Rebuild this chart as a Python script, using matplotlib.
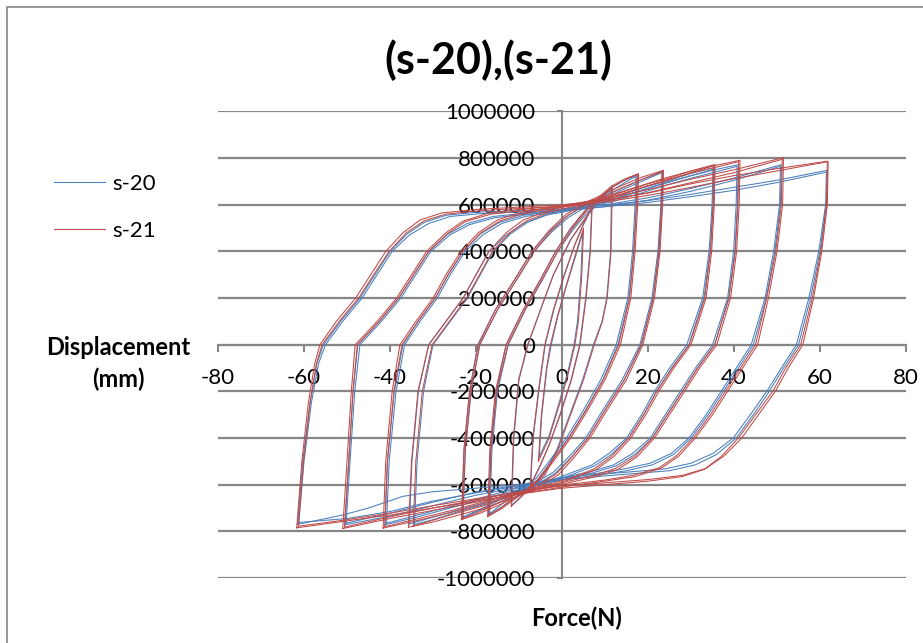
import matplotlib.pyplot as plt
import numpy as np
from matplotlib.patches import Rectangle
from matplotlib.ticker import FuncFormatter

plt.rcParams['font.family'] = ['Lato', 'DejaVu Sans']
plt.rcParams['axes.unicode_minus'] = False

BLUE = '#4A7EBB'
RED = '#BE4B48'
GRID = '#868686'

# (force, displacement in thousands)
# one list per cycle, named by the amplitude of the cycle

# ---- s-20 (blue) ----
s20_a05 = [(-5.3, -480), (-4.7, -300), (-3.5, -100), (-2.5, 0), (-1, 120), (1, 250), (3, 370),
           (4.8, 480), (4.4, 300), (3.6, 100), (2.8, 0), (1.3, -120), (-0.7, -250), (-3, -390),
           (-5.3, -480)]
s20_a07 = [(-7.3, -600), (-6.7, -400), (-5.4, -200), (-3.9, 0), (-1.9, 150), (0.6, 300), (3, 430),
           (5, 515), (6.9, 585), (6.5, 400), (5.5, 200), (4.1, 0), (2.1, -150), (-0.5, -300),
           (-3, -430), (-5.2, -520), (-7.3, -600)]
s20_a11 = [(-11.7, -688), (-11.2, -400), (-10, -150), (-7.9, 0), (-5, 150), (-2, 300), (2, 450),
           (6, 555), (9, 625), (11.5, 670), (11.3, 400), (10.4, 200), (9.3, 100), (7.3, 0),
           (4.8, -150), (1.8, -300), (-1.2, -450), (-4.2, -555), (-7.4, -608), (-9.5, -650),
           (-11.7, -688)]
s20_a17 = [(-17.1, -730), (-16.6, -450), (-15.3, -200), (-13, 0), (-9, 150), (-5, 280),
           (-1.5, 400), (2, 495), (6, 585), (9, 635), (11.5, 672), (14.5, 705), (17.5, 728),
           (17.3, 600), (16.7, 400), (15.6, 200), (13, 0), (9.5, -150), (5.5, -280), (1.5, -400),
           (-2.5, -500), (-5.5, -575), (-8, -615), (-11, -655), (-14, -695), (-17.1, -730)]
s20_a17b = [(-16.8, -724), (-16.3, -450), (-15, -200), (-12.5, 0), (-8.5, 150), (-4.5, 280),
            (-1, 400), (2.5, 492), (6.5, 580), (9.5, 630), (12, 665), (15, 700), (17.2, 722),
            (17, 600), (16.4, 400), (15.3, 200), (12.6, 0), (9, -150), (5, -280), (1, -400),
            (-3, -500), (-6, -572), (-8.5, -610), (-11.5, -650), (-14.5, -690), (-16.8, -724)]
s20_a23 = [(-23.3, -742), (-22.8, -450), (-21.5, -200), (-19.6, 0), (-15.5, 150), (-11, 280),
           (-7, 400), (-3, 485), (1, 550), (5, 595), (9, 630), (13, 665), (18, 705), (23.5, 745),
           (23.3, 600), (22.6, 400), (21.2, 200), (18.5, 0), (14.5, -150), (10, -280), (6, -400),
           (2, -485), (-1.5, -550), (-5, -590), (-9, -620), (-14, -670), (-19, -710),
           (-23.3, -742)]
s20_a23b = [(-23, -738), (-22.5, -450), (-21.1, -200), (-19.2, 0), (-15, 150), (-10.5, 280),
            (-6.5, 400), (-2.5, 482), (1.5, 546), (5.5, 590), (9.5, 625), (13.5, 660), (18.5, 700),
            (23.2, 738), (23, 600), (22.3, 400), (20.9, 200), (18.1, 0), (14, -150), (9.5, -280),
            (5.5, -400), (1.5, -482), (-2, -546), (-5.5, -585), (-9.5, -615), (-14.5, -665),
            (-19, -705), (-23, -738)]
s20_a35 = [(-34.3, -770), (-33.7, -500), (-32.2, -200), (-30, 0), (-26, 100), (-22, 200),
           (-19, 300), (-16, 400), (-12, 475), (-8, 525), (-3, 560), (0, 575), (5, 595),
           (10, 620), (15, 650), (20, 680), (25, 705), (30, 735), (35.4, 760),
           (35.2, 600), (34.5, 400), (33, 200), (29.5, 0), (25.5, -100), (22, -200), (19, -300),
           (15.5, -400), (11.5, -470), (7.5, -520), (2.5, -555), (-1, -580), (-6, -605),
           (-12, -645), (-18, -685), (-24, -715), (-30, -750), (-34.3, -770)]
s20_a35b = [(-35.5, -768), (-34.9, -500), (-33.4, -200), (-31, 0), (-27, 100), (-23, 200),
            (-20, 300), (-17, 400), (-13, 470), (-9, 520), (-4, 555), (0, 568), (5, 588),
            (10, 612), (15, 640), (20, 670), (25, 697), (30, 725), (35.1, 752),
            (34.9, 600), (34.2, 400), (32.7, 200), (29, 0), (25, -100), (21.5, -200), (18.5, -300),
            (15, -400), (11, -465), (7, -515), (2, -550), (-1.5, -575), (-6.5, -600),
            (-12.5, -640), (-18.5, -680), (-24.5, -710), (-30.5, -742), (-35.5, -768)]
s20_a41 = [(-41.2, -772), (-40.6, -500), (-39, -200), (-37, 0), (-33.5, 100), (-29.5, 200),
           (-26.5, 300), (-23, 400), (-19, 475), (-14.5, 525), (-9, 555), (-3, 572), (0, 580),
           (6, 598), (12, 625), (18, 660), (24, 695), (30, 725), (36, 752), (41, 772),
           (40.8, 600), (40.2, 400), (38.8, 200), (35.5, 0), (31.5, -100), (28, -200),
           (24.5, -300), (21, -400), (17, -470), (12.5, -520), (7, -550), (1, -575), (-4, -595),
           (-11, -625), (-19, -665), (-27, -705), (-34, -740), (-41.2, -772)]
s20_a41b = [(-40.8, -765), (-40.2, -500), (-38.6, -200), (-36.6, 0), (-33, 100), (-29, 200),
            (-26, 300), (-22.5, 400), (-18.5, 470), (-14, 520), (-8.5, 550), (-2.5, 566),
            (0, 574), (6, 590), (12, 615), (18, 648), (24, 683), (30, 714), (36, 742), (40.7, 765),
            (40.5, 600), (39.9, 400), (38.5, 200), (35, 0), (31, -100), (27.5, -200), (24, -300),
            (20.5, -400), (16.5, -465), (12, -515), (6.5, -545), (0.5, -568), (-4, -588),
            (-11, -617), (-19, -657), (-27, -698), (-34, -732), (-40.8, -765)]
s20_a51 = [(-50.5, -772), (-49.6, -500), (-48.6, -200), (-47.5, 0), (-42.5, 100), (-38, 200),
           (-34.5, 300), (-31, 400), (-26.5, 475), (-22, 520), (-16, 550), (-8, 565), (0, 578),
           (10, 600), (20, 630), (30, 670), (40, 715), (51, 772),
           (50.8, 600), (49.5, 400), (47.5, 200), (44.5, 0), (41, -100), (37.5, -200), (34, -300),
           (30, -400), (26, -470), (21, -515), (15, -540), (8, -560), (0, -578), (-10, -610),
           (-20, -645), (-30, -690), (-40, -735), (-50.5, -772)]
s20_a51b = [(-50.2, -765), (-49.3, -500), (-48.2, -200), (-47, 0), (-42, 100), (-37.5, 200),
            (-34, 300), (-30.5, 400), (-26, 472), (-21.5, 515), (-15.5, 545), (-8, 560), (0, 572),
            (10, 592), (20, 620), (30, 658), (40, 705), (50.8, 765),
            (50.6, 600), (49.2, 400), (47.2, 200), (44, 0), (40.5, -100), (37, -200),
            (33.5, -300), (29.5, -400), (25.5, -465), (20.5, -508), (14.5, -532), (8, -552),
            (0, -570), (-10, -600), (-20, -632), (-30, -675), (-40, -722), (-50.2, -765)]
s20_a62 = [(-61.5, -770), (-60.3, -500), (-58.6, -250), (-57, -80), (-55.5, 0), (-51.5, 100),
           (-47, 200), (-43.5, 300), (-40, 400), (-36, 475), (-32, 525), (-27, 555), (-20, 568),
           (-10, 575), (0, 582), (10, 598), (20, 618), (30, 645), (40, 675), (50, 705),
           (61.7, 748),
           (61.5, 600), (60, 400), (57.8, 200), (55, 0), (51.5, -100), (48.2, -200), (44.5, -300),
           (40.5, -400), (36, -470), (31, -515), (25, -540), (15, -555), (5, -570), (0, -580),
           (-10, -600), (-20, -615), (-30, -630), (-37, -650), (-45, -700), (-51, -730),
           (-61.5, -770)]
s20_a62b = [(-61.2, -762), (-60, -500), (-58.3, -250), (-56.6, -80), (-55, 0), (-51, 100),
            (-46.5, 200), (-43, 300), (-39.5, 400), (-35.5, 470), (-31, 520), (-26, 550),
            (-19, 562), (-9, 570), (0, 577), (10, 592), (20, 610), (30, 635), (40, 662),
            (50, 695), (61.5, 740),
            (61.3, 600), (59.7, 400), (57.4, 200), (54.5, 0), (51, -100), (47.6, -200),
            (43.8, -300), (39.8, -400), (35.2, -465), (30, -508), (24, -532), (14, -548),
            (5, -560), (0, -572), (-10, -605), (-20, -635), (-30, -670), (-40, -715),
            (-50, -745), (-61.2, -762)]

# ---- s-21 (red) ----
s21_a05 = [(-5.5, -500), (-4.8, -300), (-3.6, -100), (-2.7, 0), (-1.1, 120), (0.9, 250),
           (3, 380), (5, 500), (4.6, 300), (3.8, 100), (3, 0), (1.5, -120), (-0.5, -250),
           (-3, -400), (-5.5, -500)]
s21_a07 = [(-7.4, -608), (-6.8, -400), (-5.5, -200), (-4, 0), (-2, 150), (0.5, 300), (3, 430),
           (5, 520), (7, 592), (6.6, 400), (5.6, 200), (4.2, 0), (2.2, -150), (-0.4, -300),
           (-3, -430), (-5.2, -525), (-7.4, -608)]
s21_a11 = [(-11.8, -692), (-11.3, -400), (-10.1, -150), (-8, 0), (-5, 150), (-2, 300), (2, 450),
           (6, 560), (9, 630), (11.7, 678), (11.4, 400), (10.5, 200), (9.4, 100), (7.5, 0),
           (5, -150), (2, -300), (-1, -450), (-4, -560), (-7.4, -612), (-9.6, -655),
           (-11.8, -692)]
s21_a17 = [(-17.3, -737), (-16.8, -450), (-15.5, -200), (-13, 0), (-9, 150), (-5, 280),
           (-1.5, 400), (2, 500), (6, 590), (9, 640), (11.5, 680), (14.5, 710), (17.8, 734),
           (17.6, 600), (17, 400), (16, 200), (13.6, 0), (10, -150), (6, -280), (2, -400),
           (-2, -500), (-5.5, -580), (-8, -622), (-11, -662), (-14, -702), (-17.3, -737)]
s21_a17b = [(-17, -732), (-16.5, -450), (-15.2, -200), (-12.6, 0), (-8.6, 150), (-4.6, 280),
            (-1, 400), (2.5, 500), (6.5, 592), (9.5, 642), (12, 680), (15, 710), (17.5, 730),
            (17.3, 600), (16.7, 400), (15.7, 200), (13.2, 0), (9.6, -150), (5.6, -280),
            (1.6, -400), (-2.4, -500), (-5.8, -582), (-8.3, -622), (-11.3, -660), (-14.3, -700),
            (-17, -732)]
s21_a23 = [(-23.4, -750), (-22.8, -450), (-21.5, -200), (-19.5, 0), (-15.5, 150), (-11, 280),
           (-7, 400), (-3, 490), (1, 560), (5, 605), (9, 640), (13, 675), (18, 715), (23.6, 748),
           (23.4, 600), (22.8, 400), (21.5, 200), (18.8, 0), (15, -150), (10.5, -280), (6.5, -400),
           (2.5, -490), (-1, -560), (-5, -605), (-9, -635), (-14, -682), (-19, -722),
           (-23.4, -750)]
s21_a23b = [(-23.1, -745), (-22.5, -450), (-21.2, -200), (-19.1, 0), (-15, 150), (-10.5, 280),
            (-6.5, 400), (-2.5, 488), (1.5, 556), (5.5, 600), (9.5, 634), (13.5, 668), (18.5, 708),
            (23.3, 742), (23.1, 600), (22.5, 400), (21.2, 200), (18.4, 0), (14.5, -150),
            (10, -280), (6, -400), (2, -488), (-1.5, -556), (-5.5, -600), (-9.5, -630),
            (-14.5, -676), (-19, -715), (-23.1, -745)]
s21_a35 = [(-35.7, -782), (-35, -500), (-33.5, -200), (-31, 0), (-27, 100), (-23, 200),
           (-20, 300), (-17, 400), (-13, 480), (-9, 535), (-4, 570), (0, 590), (5, 610),
           (10, 630), (15, 660), (20, 690), (25, 715), (30, 745), (35.6, 773),
           (35.4, 600), (34.8, 400), (33.5, 200), (30, 0), (26, -100), (22.5, -200), (19.5, -300),
           (16, -400), (12, -480), (8, -535), (3, -570), (-1, -595), (-6, -620), (-12, -660),
           (-18, -700), (-24, -730), (-30, -760), (-35.7, -782)]
s21_a35b = [(-34.6, -778), (-34, -500), (-32.5, -200), (-30.2, 0), (-26.2, 100), (-22.2, 200),
            (-19.2, 300), (-16.2, 400), (-12.2, 478), (-8.2, 532), (-3.2, 566), (0, 582),
            (5, 602), (10, 622), (15, 652), (20, 682), (25, 707), (30, 738), (35.3, 768),
            (35.1, 600), (34.5, 400), (33.2, 200), (29.6, 0), (25.6, -100), (22, -200),
            (19, -300), (15.5, -400), (11.5, -478), (7.5, -532), (2.5, -568), (-1.5, -590),
            (-6.5, -614), (-12.5, -652), (-18.5, -692), (-24.5, -722), (-30, -752),
            (-34.6, -778)]
s21_a41 = [(-41.6, -786), (-41, -500), (-39.5, -200), (-37.7, 0), (-34, 100), (-30, 200),
           (-27, 300), (-23.5, 400), (-19.5, 480), (-15, 535), (-10, 565), (-4, 585), (0, 595),
           (6, 615), (12, 645), (18, 680), (24, 715), (30, 745), (36, 770), (41.4, 791),
           (41.2, 600), (40.6, 400), (39.2, 200), (36, 0), (32, -100), (28.5, -200), (25, -300),
           (21.5, -400), (17.5, -480), (13, -535), (8, -565), (2, -590), (-3, -610), (-10, -640),
           (-18, -680), (-26, -720), (-34, -755), (-41.6, -786)]
s21_a41b = [(-41.2, -780), (-40.6, -500), (-39.1, -200), (-37.2, 0), (-33.5, 100), (-29.5, 200),
            (-26.5, 300), (-23, 400), (-19, 478), (-14.5, 530), (-9.5, 560), (-3.5, 580),
            (0, 590), (6, 608), (12, 636), (18, 670), (24, 705), (30, 736), (36, 762),
            (41.1, 785),
            (40.9, 600), (40.3, 400), (38.8, 200), (35.5, 0), (31.5, -100), (28, -200),
            (24.5, -300), (21, -400), (17, -478), (12.5, -530), (7.5, -560), (1.5, -585),
            (-3, -603), (-10, -632), (-18, -672), (-26, -712), (-34, -748), (-41.2, -780)]
s21_a51 = [(-51, -788), (-50, -500), (-49, -200), (-48.1, 0), (-43, 100), (-38.5, 200),
           (-35, 300), (-31.5, 400), (-27, 480), (-23, 530), (-17, 565), (-10, 580), (0, 595),
           (10, 625), (20, 665), (30, 710), (40, 750), (51.5, 802),
           (51.3, 600), (50, 400), (48, 200), (45.5, 0), (42, -100), (38.5, -200), (35, -300),
           (31, -400), (27, -480), (23, -530), (17, -565), (10, -585), (0, -610), (-10, -640),
           (-20, -675), (-30, -710), (-40, -745), (-51, -788)]
s21_a51b = [(-50.6, -782), (-49.6, -500), (-48.6, -200), (-47.6, 0), (-42.5, 100), (-38, 200),
            (-34.5, 300), (-31, 400), (-26.5, 478), (-22.5, 528), (-16.5, 560), (-9, 575),
            (0, 590), (10, 615), (20, 652), (30, 695), (40, 738), (51.2, 795),
            (51, 600), (49.7, 400), (47.6, 200), (45, 0), (41.5, -100), (38, -200), (34.5, -300),
            (30.5, -400), (26.5, -478), (22.5, -528), (16.5, -560), (10, -580), (0, -602),
            (-10, -632), (-20, -665), (-30, -700), (-40, -738), (-50.6, -782)]
s21_a62 = [(-61.7, -785), (-60.5, -500), (-59, -250), (-57.5, -80), (-56.3, 0), (-52.5, 100),
           (-48, 200), (-44.5, 300), (-41, 400), (-37, 480), (-33, 535), (-28, 565), (-20, 580),
           (-10, 590), (0, 600), (10, 620), (20, 650), (30, 690), (40, 725), (50, 755),
           (61.7, 787),
           (61.5, 600), (60.2, 400), (58.2, 200), (55.5, 0), (52, -100), (49, -200), (45, -300),
           (41, -400), (37, -480), (33, -535), (28, -565), (20, -585), (10, -600), (0, -615),
           (-10, -640), (-20, -670), (-30, -700), (-40, -730), (-50, -755), (-61.7, -785)]
s21_a62b = [(-61.3, -778), (-60.1, -500), (-58.6, -250), (-57.1, -80), (-55.8, 0), (-51.8, 100),
            (-47.3, 200), (-43.8, 300), (-40.2, 400), (-36.2, 480), (-32, 532), (-27, 560),
            (-19, 575), (-9, 585), (0, 594), (10, 612), (20, 640), (30, 675), (40, 712),
            (50, 745), (61.9, 785),
            (61.7, 600), (60.4, 400), (58.5, 200), (56, 0), (52.6, -100), (49.6, -200),
            (45.7, -300), (41.8, -400), (37.8, -475), (33.5, -530), (28, -560), (20, -578),
            (10, -592), (0, -605), (-10, -630), (-20, -660), (-30, -690), (-40, -722),
            (-50, -750), (-61.3, -778)]

s20_loops = [s20_a05, s20_a07, s20_a11, s20_a17, s20_a17b, s20_a23, s20_a23b, s20_a35,
             s20_a35b, s20_a41, s20_a41b, s20_a51, s20_a51b, s20_a62, s20_a62b]
s21_loops = [s21_a05, s21_a07, s21_a11, s21_a17, s21_a17b, s21_a23, s21_a23b, s21_a35,
             s21_a35b, s21_a41, s21_a41b, s21_a51, s21_a51b, s21_a62, s21_a62b]

x_ticks = [-80, -60, -40, -20, 0, 20, 40, 60, 80]
y_ticks = [-1000000, -800000, -600000, -400000, -200000, 0,
           200000, 400000, 600000, 800000, 1000000]

fig = plt.figure(figsize=(9.23, 6.43), dpi=100)
ax = fig.add_axes([0.2362, 0.1011, 0.7454, 0.7255])
ax.patch.set_visible(False)

for name, loops, color in (('s-20', s20_loops, BLUE), ('s-21', s21_loops, RED)):
    for i, loop in enumerate(loops):
        pts = np.array(loop, dtype=float)
        ax.plot(pts[:, 0], pts[:, 1] * 1000, color=color, lw=0.75,
                label=name if i == 0 else None)

ax.set_xlim(-80, 80)
ax.set_ylim(-1000000, 1000000)
ax.set_xticks(x_ticks)
ax.set_yticks(y_ticks)
ax.yaxis.set_major_formatter(FuncFormatter(lambda v, p: f'{v:.0f}'))

for side in ('left', 'bottom'):
    ax.spines[side].set_position(('data', 0))
    ax.spines[side].set_color(GRID)
    ax.spines[side].set_linewidth(1.5)
    ax.spines[side].set_zorder(0.5)
ax.spines[['top', 'right']].set_visible(False)

ax.grid(axis='y', color=GRID, lw=1.6)
ax.set_axisbelow(True)
ax.tick_params(axis='x', direction='out', length=5, width=1.5, color=GRID, pad=12,
               labelsize=16)
ax.tick_params(axis='y', direction='out', length=3.5, width=1.5, color=GRID, pad=16,
               labelsize=16)

fig.text(0.5396, 0.9067, '(s-20),(s-21)', ha='center', va='center', fontsize=31,
         fontweight='bold')
fig.text(0.1278, 0.4347, 'Displacement\n(mm)', ha='center', va='center', fontsize=17,
         fontweight='bold', linespacing=1.45)
fig.text(0.625, 0.0389, 'Force(N)', ha='center', va='center', fontsize=17,
         fontweight='bold')

fig.legend(loc='upper left', bbox_to_anchor=(0.058, 0.729), frameon=False, fontsize=16,
           handlelength=2.3, handletextpad=0.35, labelspacing=1.2, borderpad=0,
           borderaxespad=0)

fig.add_artist(Rectangle((6.5 / 923, -0.5), 2, 1.5 - 6.5 / 643, transform=fig.transFigure,
                         fill=False, edgecolor=GRID, lw=1.2))

fig.savefig('out.png', dpi=100)
